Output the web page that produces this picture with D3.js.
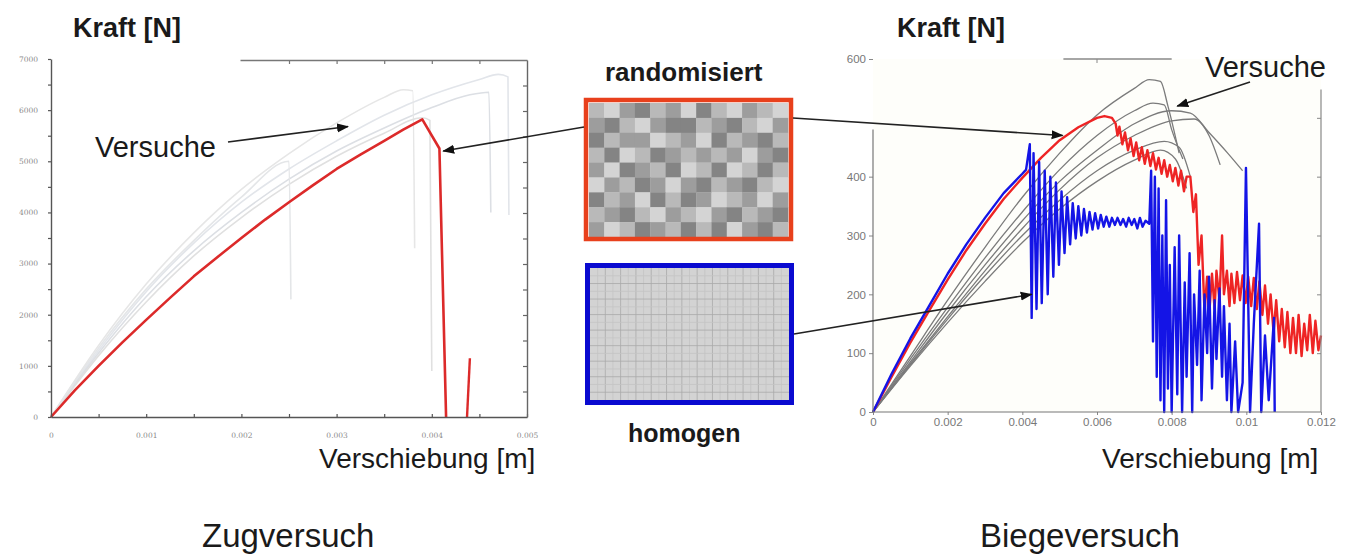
<!DOCTYPE html>
<html><head><meta charset="utf-8">
<script src="https://cdnjs.cloudflare.com/ajax/libs/d3/7.8.5/d3.min.js"></script>
<style>body{margin:0;background:#fff}svg{display:block}text{font-family:"Liberation Sans",Arial,sans-serif}</style>
</head><body><svg id="c" width="1352" height="556"></svg>
<script>
// ---------- DATA ----------
// Zugversuch (left): displacement [m], force [N]
const zugSimRed = [[0,0],[0.00025,520],[0.0005,1000],[0.00075,1460],[0.001,1900],[0.00125,2330],[0.0015,2750],[0.00175,3130],[0.002,3500],[0.00225,3860],[0.0025,4200],[0.00275,4530],[0.003,4850],[0.00325,5130],[0.0035,5400],[0.0037,5620],[0.0039,5820],[0.00408,5250],[0.00415,0]];
const zugSimRed2 = [[0.00437,0],[0.0044,1150]];
const zugTests = [
 [[0,0],[0.0005,1300],[0.001,2450],[0.0015,3400],[0.002,4200],[0.0025,4850],[0.003,5400],[0.0035,5900],[0.004,6300],[0.0045,6600],[0.0047,6700],[0.0048,6650],[0.00481,3950]],
 [[0,0],[0.0005,1250],[0.001,2350],[0.0015,3250],[0.002,4000],[0.0025,4650],[0.003,5200],[0.0035,5650],[0.004,6050],[0.0044,6300],[0.0046,6350],[0.00462,4000]],
 [[0,0],[0.0005,1400],[0.001,2600],[0.0015,3600],[0.002,4450],[0.0025,5150],[0.003,5750],[0.0035,6250],[0.0037,6400],[0.0038,6380],[0.00382,3300]],
 [[0,0],[0.0005,1200],[0.001,2250],[0.0015,3150],[0.002,3900],[0.0025,4550],[0.003,5100],[0.0035,5550],[0.0039,5850],[0.00398,5800],[0.004,900]],
 [[0,0],[0.0005,1350],[0.001,2500],[0.0015,3450],[0.002,4300],[0.0025,5000],[0.00252,2300]]
];
const zugYTicks = [0,1000,2000,3000,4000,5000,6000,7000];
const zugXTicks = [0,0.001,0.002,0.003,0.004,0.005];

// Biegeversuch (right): displacement [m], force [N]
const biegeBlue = [[0,0],[0.0005,65],[0.001,125],[0.0015,180],[0.002,235],[0.0025,285],[0.003,330],[0.0035,372],[0.004,405],[0.0041,412],
 [0.0042,455],[0.00425,160],[0.0043,440],[0.00438,175],[0.00445,425],[0.00452,185],[0.0046,410],[0.00468,200],[0.00475,400],[0.00483,230],
 [0.0049,390],[0.00498,250],[0.00505,375],[0.00513,270],[0.0052,365],[0.00528,285],[0.00535,355],[0.00543,295],[0.0055,350],[0.00558,300],
 [0.00565,345],[0.00573,305],[0.0058,340],[0.00588,310],[0.00595,338],[0.00603,312],[0.0061,335],[0.00618,315],[0.00625,332],[0.00633,315],
 [0.0064,330],[0.00648,318],[0.00655,330],[0.00663,318],[0.0067,328],[0.00678,315],[0.00685,330],[0.00693,318],[0.007,328],[0.00708,312],
 [0.00715,330],[0.00722,315],[0.0073,325],[0.0074,320],[0.00745,410],[0.0075,120],[0.00755,400],[0.0076,60],[0.00765,380],[0.0077,20],
 [0.00775,300],[0.0078,0],[0.00785,360],[0.0079,40],[0.00795,250],[0.008,0],[0.00808,280],[0.00815,30],[0.0082,300],[0.00828,0],
 [0.00835,220],[0.0084,60],[0.00848,270],[0.00855,0],[0.0086,200],[0.00868,80],[0.00875,240],[0.0088,20],[0.00888,200],[0.00895,100],
 [0.009,230],[0.00908,40],[0.00915,190],[0.0092,90],[0.00928,210],[0.00935,60],[0.0094,180],[0.00948,20],[0.00955,150],[0.0096,0],
 [0.0097,120],[0.00978,0],[0.0099,50],[0.00999,415],[0.0101,0],[0.0102,150],[0.01034,320],[0.0104,0],[0.0105,130],[0.0106,20],[0.01074,160],[0.01076,0]];
const biegeRed = [[0,0],[0.0005,60],[0.001,118],[0.0015,172],[0.002,225],[0.0025,275],[0.003,320],[0.0035,362],[0.004,398],[0.0045,432],
 [0.005,462],[0.0055,484],[0.006,500],[0.0062,503],[0.0064,500],[0.0065,490],[0.00655,470],[0.0066,485],[0.00668,455],[0.00675,475],
 [0.00683,445],[0.0069,465],[0.00698,435],[0.00705,458],[0.00713,428],[0.0072,450],[0.00728,422],[0.00735,445],[0.00743,418],[0.0075,440],
 [0.00758,412],[0.00765,432],[0.00773,405],[0.0078,428],[0.00788,400],[0.00795,420],[0.00803,392],[0.0081,415],[0.00818,385],[0.00825,410],
 [0.00833,375],[0.0084,400],[0.0085,400],[0.00858,340],[0.00865,370],[0.00872,250],[0.0088,300],[0.00888,170],[0.00895,230],[0.009,160],
 [0.00908,235],[0.00915,175],[0.0092,240],[0.00928,190],[0.00935,300],[0.0094,200],[0.00948,240],[0.00955,180],[0.0096,235],[0.00968,185],
 [0.00975,238],[0.00983,190],[0.0099,232],[0.00998,185],[0.01005,230],[0.01013,180],[0.0102,228],[0.01028,175],[0.01035,222],[0.01043,165],
 [0.0105,215],[0.01058,150],[0.01065,200],[0.01073,135],[0.0108,190],[0.01088,120],[0.01095,175],[0.01103,110],[0.0111,170],[0.01118,100],
 [0.01125,160],[0.01133,100],[0.0114,165],[0.01148,95],[0.01155,150],[0.01163,105],[0.0117,165],[0.01178,100],[0.01185,155],[0.01193,105],[0.012,130]];
const biegeTests = [
 [[0,0],[0.001,95],[0.002,190],[0.003,280],[0.004,365],[0.005,440],[0.006,505],[0.007,550],[0.0074,565],[0.0077,562],[0.0079,520],[0.0082,440]],
 [[0,0],[0.001,90],[0.002,178],[0.003,262],[0.004,340],[0.005,412],[0.006,470],[0.007,512],[0.0075,525],[0.0078,522],[0.008,480],[0.0083,430]],
 [[0,0],[0.001,85],[0.002,170],[0.003,250],[0.004,325],[0.005,392],[0.006,445],[0.007,490],[0.008,512],[0.0085,508],[0.009,475],[0.0095,440],[0.0099,410]],
 [[0,0],[0.001,82],[0.002,162],[0.003,240],[0.004,312],[0.005,378],[0.006,432],[0.007,470],[0.008,495],[0.0086,498],[0.009,470],[0.0093,420]],
 [[0,0],[0.001,80],[0.002,158],[0.003,232],[0.004,300],[0.005,360],[0.006,410],[0.007,445],[0.0078,460],[0.0082,450],[0.0085,400]],
 [[0,0],[0.001,78],[0.002,152],[0.003,222],[0.004,288],[0.005,345],[0.006,392],[0.007,428],[0.0077,445],[0.0081,430],[0.0084,380]]
];
const biegeYTicks = [0,100,200,300,400,600];
const biegeXTicks = [0,0.002,0.004,0.006,0.008,0.01,0.012];

// Random mesh grey levels (randomisiert)
const randomCells = [
 [1,0,2,3,1,2,0,3,1,0,2,1,0],
 [2,3,1,0,2,3,3,1,2,3,1,0,2],
 [3,1,2,2,0,1,2,0,3,1,2,3,1],
 [1,3,0,1,3,2,1,2,1,2,0,2,3],
 [2,0,3,2,1,3,0,1,3,0,1,3,1],
 [0,2,1,3,2,0,2,3,1,2,3,1,0],
 [3,1,2,0,3,1,3,2,0,1,2,0,2],
 [1,2,3,1,0,2,1,0,2,3,1,2,3],
 [2,0,1,3,2,1,3,1,3,0,2,3,1]
];
const greyLevels = ['#d4d4d4','#b9b9b9','#9d9d9d','#848484'];

// ---------- DRAW ----------
const svg = d3.select('#c');
svg.append('rect').attr('width',1352).attr('height',556).attr('fill','#fff');
const defs = svg.append('defs');
defs.append('marker').attr('id','ah').attr('viewBox','0 -5 12 10').attr('refX',11).attr('refY',0)
 .attr('markerWidth',12).attr('markerHeight',10).attr('markerUnits','userSpaceOnUse').attr('orient','auto')
 .append('path').attr('d','M0,-4.5L12,0L0,4.5Z').attr('fill','#111');

// Left chart
const xL = d3.scaleLinear().domain([0,0.005]).range([51,527]);
const yL = d3.scaleLinear().domain([0,7000]).range([417,59]);
const gL = svg.append('g');
const lineLs = d3.line().x(d=>xL(d[0])).y(d=>yL(d[1])).curve(d3.curveMonotoneX);
const lineL = d3.line().x(d=>xL(d[0])).y(d=>yL(d[1]));
const testCols = ['#e2e5ea','#dcdfe4','#e6e6e6','#e0e0e0','#e4e6e8'];
zugTests.forEach((t,i)=>gL.append('path').attr('d',lineLs(t)).attr('fill','none').attr('stroke',testCols[i]).attr('stroke-width',1.6));
gL.append('path').attr('d',lineL(zugSimRed)).attr('fill','none').attr('stroke','#dc2a2a').attr('stroke-width',2.6).attr('stroke-linejoin','round');
gL.append('path').attr('d',lineL(zugSimRed2)).attr('fill','none').attr('stroke','#dc2a2a').attr('stroke-width',2.4);

function styleAxis(g, col, fs){
  g.selectAll('path.domain').attr('stroke',col).attr('stroke-width',1.4);
  g.selectAll('.tick line').attr('stroke',col).attr('stroke-width',1.2);
  g.selectAll('.tick text').attr('fill','#8a8a8a').style('font-size',fs+'px').style('font-family','"DejaVu Serif",serif');
}
const minorL = d3.range(0,7001,500);
const axLy = gL.append('g').attr('transform','translate(51,0)')
 .call(d3.axisLeft(yL).tickValues(minorL).tickSizeInner(3).tickSizeOuter(0).tickPadding(10)
 .tickFormat(d=>zugYTicks.includes(d)?String(d):''));
styleAxis(axLy,'#555',7.5);
const minorX = d3.range(0,11).map(i=>i*0.0005);
const axLx = gL.append('g').attr('transform','translate(0,417)')
 .call(d3.axisBottom(xL).tickValues(minorX).tickSizeInner(-3).tickSizeOuter(0).tickPadding(16)
 .tickFormat(d=>zugXTicks.some(v=>Math.abs(v-d)<1e-9)?(d===0?'0':d3.format('.3f')(d)):''));
styleAxis(axLx,'#555',7.5);
const axLr = gL.append('g').attr('transform','translate(527,0)')
 .call(d3.axisLeft(d3.scaleLinear().domain([0,7000]).range([417,60])).tickValues(minorL.slice(1,-1)).tickSizeInner(4).tickSizeOuter(0).tickFormat(''));
styleAxis(axLr,'#666',7);
const xTopL = d3.scaleLinear().domain([xL.invert(240),0.005]).range([240,527]);
const axLt = gL.append('g').attr('transform','translate(0,60)')
 .call(d3.axisBottom(xTopL).tickValues([0.0025,0.003,0.0035,0.004,0.0045]).tickSizeInner(4).tickSizeOuter(0).tickFormat(''));
styleAxis(axLt,'#777',7);

// Right chart
const xR = d3.scaleLinear().domain([0,0.012]).range([873,1321]);
const yR = d3.scaleLinear().domain([0,600]).range([412,59]);
const gR = svg.append('g');
gR.append('rect').attr('x',873).attr('y',59).attr('width',448).attr('height',353).attr('fill','#fefefa');
const lineRs = d3.line().x(d=>xR(d[0])).y(d=>yR(d[1])).curve(d3.curveMonotoneX);
const lineR = d3.line().x(d=>xR(d[0])).y(d=>yR(d[1]));
biegeTests.forEach(t=>gR.append('path').attr('d',lineRs(t)).attr('fill','none').attr('stroke','#7b7b7b').attr('stroke-width',1.3));
gR.append('path').attr('d',lineR(biegeRed)).attr('fill','none').attr('stroke','#ee2424').attr('stroke-width',2.4).attr('stroke-linejoin','round');
gR.append('path').attr('d',lineR(biegeBlue)).attr('fill','none').attr('stroke','#1414e6').attr('stroke-width',2.4).attr('stroke-linejoin','round');

function styleR(g){
  g.selectAll('path.domain').remove();
  g.selectAll('.tick line').attr('stroke','#888').attr('stroke-width',1);
  g.selectAll('.tick text').attr('fill','#777').style('font-size','11.5px');
}
const axRy = gR.append('g').attr('transform','translate(873,0)')
 .call(d3.axisLeft(yR).tickValues(biegeYTicks).tickSizeInner(4).tickSizeOuter(0).tickPadding(3));
styleR(axRy);
gR.append('line').attr('x1',873).attr('x2',873).attr('y1',yR(480)).attr('y2',yR(0)).attr('stroke','#777').attr('stroke-width',1.2);
const axRx = gR.append('g').attr('transform','translate(0,412)')
 .call(d3.axisBottom(xR).tickValues(biegeXTicks).tickSizeInner(3).tickSizeOuter(0).tickPadding(3)
 .tickFormat(d=>d===0?'0':String(+d.toFixed(3))));
styleR(axRx);
gR.append('line').attr('x1',873).attr('x2',1321).attr('y1',412).attr('y2',412).attr('stroke','#777').attr('stroke-width',1.2);
const axRr = gR.append('g').attr('transform','translate(1321,0)')
 .call(d3.axisLeft(yR).tickValues([100,200,300,400,500]).tickSizeInner(4).tickSizeOuter(0).tickFormat(''));
styleR(axRr);
gR.append('line').attr('x1',1321).attr('x2',1321).attr('y1',yR(548)).attr('y2',412).attr('stroke','#888').attr('stroke-width',1.2);
gR.append('line').attr('x1',xR(0.0051)).attr('x2',xR(0.008)).attr('y1',59).attr('y2',59).attr('stroke','#888').attr('stroke-width',1.4);
gR.append('line').attr('x1',xR(0.006)).attr('x2',xR(0.006)).attr('y1',59).attr('y2',63).attr('stroke','#888');

// Middle meshes
const gM = svg.append('g');
const rx0=589, ry0=103, cw=(788-589)/13, ch=(237-103)/9;
randomCells.forEach((row,r)=>row.forEach((v,c)=>{
  gM.append('rect').attr('x',rx0+c*cw).attr('y',ry0+r*ch).attr('width',cw+0.3).attr('height',ch+0.3).attr('fill',greyLevels[v]);
}));
gM.append('rect').attr('x',586).attr('y',100).attr('width',205).attr('height',139).attr('fill','none').attr('stroke','#e8401c').attr('stroke-width',4.5);
const bx0=590, by0=268, bw=199, bh=132;
gM.append('rect').attr('x',bx0).attr('y',by0).attr('width',bw).attr('height',bh).attr('fill','#d3d3d3');
d3.range(1,26).forEach(i=>gM.append('line').attr('x1',bx0+i*bw/26).attr('x2',bx0+i*bw/26).attr('y1',by0).attr('y2',by0+bh)
  .attr('stroke',i%2?'#c4c4c4':'#aaaaaa').attr('stroke-width',0.8));
d3.range(1,17).forEach(i=>gM.append('line').attr('y1',by0+i*bh/17).attr('y2',by0+i*bh/17).attr('x1',bx0).attr('x2',bx0+bw)
  .attr('stroke',i%2?'#c4c4c4':'#aaaaaa').attr('stroke-width',0.8));
gM.append('rect').attr('x',587.5).attr('y',265.5).attr('width',204).attr('height',137).attr('fill','none').attr('stroke','#0a0ad0').attr('stroke-width',5);

// Arrows
const arrows = [
 [228,142, xL(0.00312), yL(5680)],
 [584,127, xL(0.00412), yL(5200)],
 [793,118, xR(0.00508), yR(470)],
 [794,334, xR(0.00425), yR(200)],
 [1250,82, xR(0.00815), yR(520)]
];
arrows.forEach(a=>svg.append('line').attr('x1',a[0]).attr('y1',a[1]).attr('x2',a[2]).attr('y2',a[3])
 .attr('stroke','#222').attr('stroke-width',1.6).attr('marker-end','url(#ah)'));

// Texts
const T = (x,y,s,fs,w)=>svg.append('text').attr('x',x).attr('y',y).text(s).attr('fill','#1a1a1a').style('font-size',fs+'px').style('font-weight',w||'normal');
T(73,37,'Kraft [N]',27,'bold');
T(897,37,'Kraft [N]',27,'bold');
T(95,157,'Versuche',29);
T(1205,77,'Versuche',29);
T(605,81,'randomisiert',26,'bold');
T(628,442,'homogen',25,'bold');
T(319,468,'Verschiebung [m]',28);
T(1102,468,'Verschiebung [m]',28);
T(202,547,'Zugversuch',33);
T(980,547,'Biegeversuch',33);
</script></body></html>
